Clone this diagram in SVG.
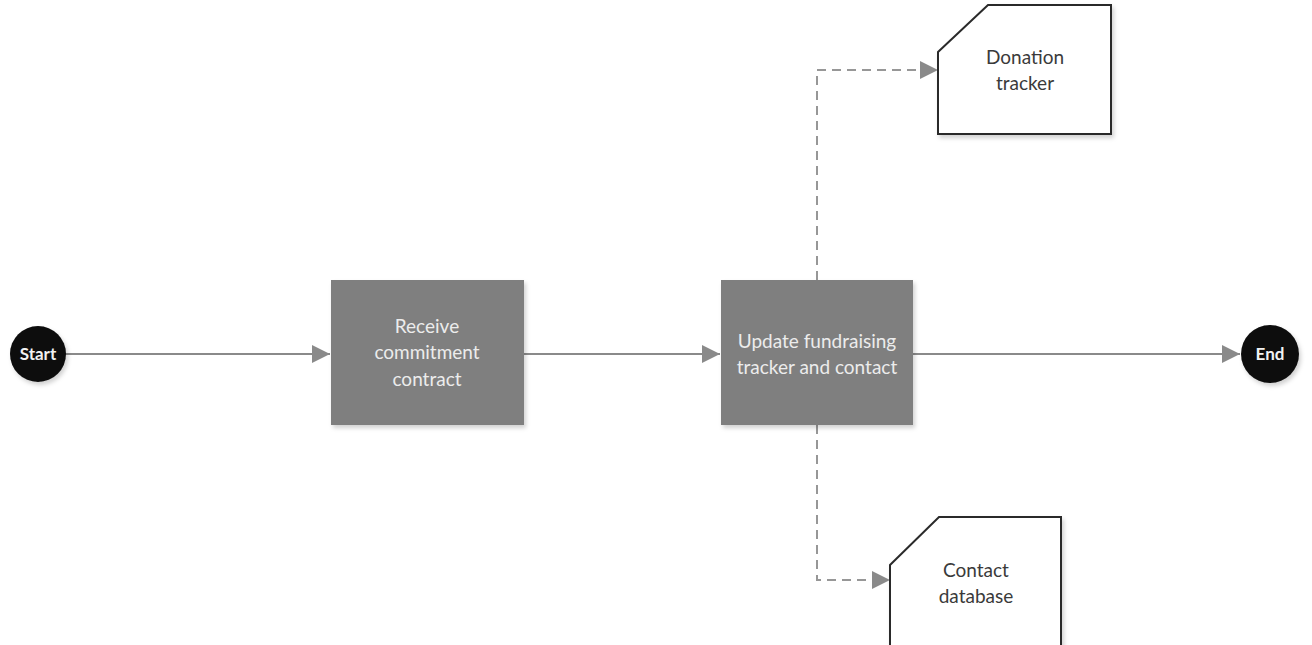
<svg xmlns="http://www.w3.org/2000/svg" width="1312" height="645" viewBox="0 0 1312 645">
  <style>
    .flow { fill: none; stroke: #8a8a8a; stroke-width: 2; }
    .dash { fill: none; stroke: #979797; stroke-width: 2; stroke-dasharray: 9 6; }
    .task { fill: #7f7f7f; }
    .task-text { font-family: Lato, "Open Sans", sans-serif; font-size: 19px; fill: #ececec; text-anchor: middle; }
    .doc { fill: #ffffff; stroke: #2a2a2a; stroke-width: 2; }
    .doc-text { font-family: Lato, "Open Sans", sans-serif; font-size: 19px; fill: #3a3a3a; text-anchor: middle; }
    .event { fill: #0c0c0c; }
    .event-text { font-family: Lato, "Open Sans", sans-serif; font-size: 17px; font-weight: bold; fill: #f2f2f2; text-anchor: middle; }
  </style>
  <defs>
    <marker id="arrowBig" viewBox="0 0 10 10" refX="10" refY="5" markerWidth="18" markerHeight="18" markerUnits="userSpaceOnUse" orient="auto">
      <path d="M0,0 L10,5 L0,10 Z" fill="#8a8a8a"/>
    </marker>
    <filter id="shadow" x="-10%" y="-10%" width="125%" height="125%">
      <feDropShadow dx="2" dy="3" stdDeviation="2" flood-color="#000" flood-opacity="0.18"/>
    </filter>
  </defs>

  <rect width="1312" height="645" fill="#ffffff"/>

  <g id="connectors">
    <line class="flow" x1="64" y1="354" x2="330" y2="354" marker-end="url(#arrowBig)"/>
    <line class="flow" x1="524" y1="354" x2="720" y2="354" marker-end="url(#arrowBig)"/>
    <line class="flow" x1="913" y1="354" x2="1240" y2="354" marker-end="url(#arrowBig)"/>
    <polyline class="dash" points="817,280 817,70 920,70"/>
    <path d="M920,61 L938,70 L920,79 Z" fill="#8a8a8a"/>
    <polyline class="dash" points="817,425 817,580 872,580"/>
    <path d="M872,571 L890,580 L872,589 Z" fill="#8a8a8a"/>
  </g>

  <g id="start">
    <circle class="event" cx="38" cy="354" r="28" filter="url(#shadow)"/>
    <text class="event-text" x="38" y="360">Start</text>
  </g>

  <g id="receive-contract">
    <rect class="task" x="331" y="280" width="193" height="145" filter="url(#shadow)"/>
    <text class="task-text" x="427" y="333">Receive</text>
    <text class="task-text" x="427" y="359">commitment</text>
    <text class="task-text" x="427" y="386">contract</text>
  </g>

  <g id="update-tracker">
    <rect class="task" x="721" y="280" width="192" height="145" filter="url(#shadow)"/>
    <text class="task-text" x="817" y="348">Update fundraising</text>
    <text class="task-text" x="817" y="374">tracker and contact</text>
  </g>

  <g id="end">
    <circle class="event" cx="1270" cy="354" r="29" filter="url(#shadow)"/>
    <text class="event-text" x="1270" y="360">End</text>
  </g>

  <g id="donation-tracker">
    <polygon class="doc" points="938,52 988,5 1111,5 1111,134 938,134" filter="url(#shadow)"/>
    <text class="doc-text" x="1025" y="64">Donation</text>
    <text class="doc-text" x="1025" y="90">tracker</text>
  </g>

  <g id="contact-database">
    <polygon class="doc" points="890,565 939,517 1061,517 1061,650 890,650" filter="url(#shadow)"/>
    <text class="doc-text" x="976" y="577">Contact</text>
    <text class="doc-text" x="976" y="603">database</text>
  </g>
</svg>
